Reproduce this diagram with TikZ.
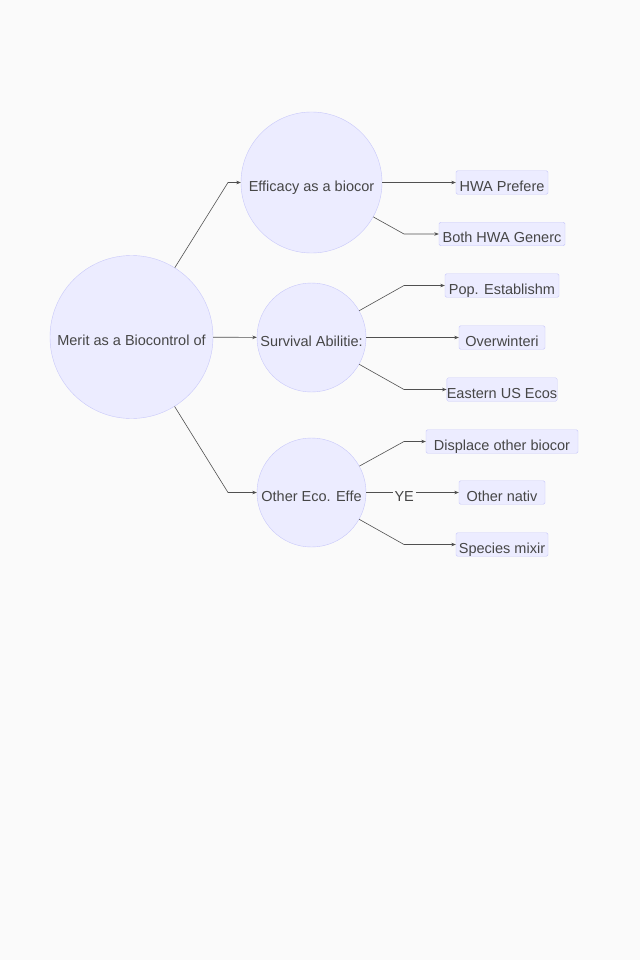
\documentclass[tikz,border=0pt]{standalone}
\usepackage{fontspec}
\setmainfont{Liberation Sans}
\usetikzlibrary{arrows.meta}
\definecolor{pagebg}{RGB}{250,250,250}
\definecolor{nodefill}{RGB}{236,236,255}
\definecolor{nodeline}{RGB}{200,200,250}
\definecolor{linkgray}{RGB}{80,80,80}
\definecolor{txtgray}{RGB}{70,70,70}
\newcommand{\lowtxt}[1]{\raisebox{-8.5pt}[0pt][0pt]{#1}}
\begin{document}
\begin{tikzpicture}[x=1pt,y=-1pt,font=\fontsize{14.5}{16}\selectfont,text=txtgray]
\tikzset{
  round/.style={draw=nodeline,fill=nodefill,circle,inner sep=0pt,minimum size=#1},
  leaf/.style={draw=nodeline,fill=nodefill,rectangle,rounded corners=1.5pt,inner sep=0pt,minimum height=23.5pt,minimum width=#1},
  link/.style={draw=linkgray,line width=0.6pt,-{Stealth[length=4.5pt,width=3.5pt]}}
}
\fill [pagebg] (0,0) rectangle (640,960);
\useasboundingbox (0,0) rectangle (640,960);

\node (m) at (131.5,337) [round=163pt] {\lowtxt{Merit as a Biocontrol of}};
\node (e) at (311.5,182.5) [round=141pt] {\lowtxt{Efficacy as a biocor}};
\node (s) at (311.5,337.5) [round=109pt] {\lowtxt{Survival Abilitie:}};
\node (o) at (311.5,492.5) [round=109pt] {\lowtxt{Other Eco. Effe}};

\node (e1) at (502,182.5) [leaf=92pt] {\lowtxt{HWA Prefere}};
\node (e2) at (502,234) [leaf=126pt] {\lowtxt{Both HWA Generc}};
\node (s1) at (502,285.5) [leaf=114pt] {\lowtxt{Pop. Establishm}};
\node (s2) at (502,337.5) [leaf=86pt] {\lowtxt{Overwinteri}};
\node (s3) at (502,389.5) [leaf=108pt] {\lowtxt{Eastern US Ecos}};
\node (o1) at (502,441.5) [leaf=152pt] {\lowtxt{Displace other biocor}};
\node (o2) at (502,492.5) [leaf=86pt] {\lowtxt{Other nativ}};
\node (o3) at (502,544.5) [leaf=92pt] {\lowtxt{Species mixir}};

\coordinate (k1) at (228,182.5);
\coordinate (k2) at (228,492.5);
\coordinate (k3) at (404,234);
\coordinate (k4) at (404,285.5);
\coordinate (k5) at (404,389.5);
\coordinate (k6) at (404,441.5);
\coordinate (k7) at (404,544.5);

\draw [link] (m) -- (k1) -- (e);
\draw [link] (m) -- (s);
\draw [link] (m) -- (k2) -- (o);

\draw [link] (e) -- (e1);
\draw [link] (e) -- (k3) -- (e2);
\draw [link] (s) -- (k4) -- (s1);
\draw [link] (s) -- (s2);
\draw [link] (s) -- (k5) -- (s3);
\draw [link] (o) -- (k6) -- (o1);
\path (o) edge [link] node [pos=0.41,fill=pagebg,inner sep=2pt] {\lowtxt{YE}} (o2);
\draw [link] (o) -- (k7) -- (o3);
\end{tikzpicture}
\end{document}
